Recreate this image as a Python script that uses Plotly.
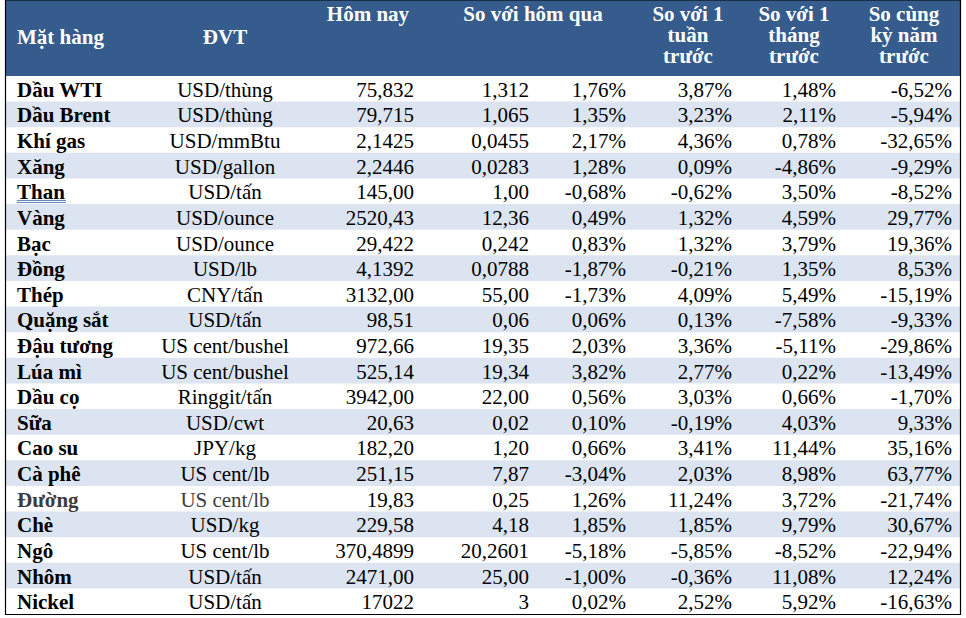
import plotly.graph_objects as go

# ---- data ----
names = ["Dầu WTI", "Dầu Brent", "Khí gas", "Xăng", "Than", "Vàng", "Bạc", "Đồng", "Thép",
         "Quặng sắt", "Đậu tương", "Lúa mì", "Dầu cọ", "Sữa", "Cao su", "Cà phê", "Đường",
         "Chè", "Ngô", "Nhôm", "Nickel"]
units = ["USD/thùng", "USD/thùng", "USD/mmBtu", "USD/gallon", "USD/tấn", "USD/ounce", "USD/ounce",
         "USD/lb", "CNY/tấn", "USD/tấn", "US cent/bushel", "US cent/bushel", "Ringgit/tấn",
         "USD/cwt", "JPY/kg", "US cent/lb", "US cent/lb", "USD/kg", "US cent/lb", "USD/tấn", "USD/tấn"]
today = ["75,832", "79,715", "2,1425", "2,2446", "145,00", "2520,43", "29,422", "4,1392", "3132,00",
         "98,51", "972,66", "525,14", "3942,00", "20,63", "182,20", "251,15", "19,83", "229,58",
         "370,4899", "2471,00", "17022"]
chg_day_abs = ["1,312", "1,065", "0,0455", "0,0283", "1,00", "12,36", "0,242", "0,0788", "55,00",
               "0,06", "19,35", "19,34", "22,00", "0,02", "1,20", "7,87", "0,25", "4,18",
               "20,2601", "25,00", "3"]
chg_day_pct = ["1,76%", "1,35%", "2,17%", "1,28%", "-0,68%", "0,49%", "0,83%", "-1,87%", "-1,73%",
               "0,06%", "2,03%", "3,82%", "0,56%", "0,10%", "0,66%", "-3,04%", "1,26%", "1,85%",
               "-5,18%", "-1,00%", "0,02%"]
chg_week = ["3,87%", "3,23%", "4,36%", "0,09%", "-0,62%", "1,32%", "1,32%", "-0,21%", "4,09%",
            "0,13%", "3,36%", "2,77%", "3,03%", "-0,19%", "3,41%", "2,03%", "11,24%", "1,85%",
            "-5,85%", "-0,36%", "2,52%"]
chg_month = ["1,48%", "2,11%", "0,78%", "-4,86%", "3,50%", "4,59%", "3,79%", "1,35%", "5,49%",
             "-7,58%", "-5,11%", "0,22%", "0,66%", "4,03%", "11,44%", "8,98%", "3,72%", "9,79%",
             "-8,52%", "11,08%", "5,92%"]
chg_year = ["-6,52%", "-5,94%", "-32,65%", "-9,29%", "-8,52%", "29,77%", "19,36%", "8,53%",
            "-15,19%", "-9,33%", "-29,86%", "-13,49%", "-1,70%", "9,33%", "35,16%", "63,77%",
            "-21,74%", "30,67%", "-22,94%", "12,24%", "-16,63%"]

header_labels = [["", "Mặt hàng", ""], ["", "ĐVT", ""], ["Hôm nay", "", ""],
                 ["So với hôm qua", "", ""], ["So với 1", "tuần", "trước"],
                 ["So với 1", "tháng", "trước"], ["So cùng", "kỳ năm", "trước"]]

# ---- layout geometry ----
W, H = 966, 618
FONT = "Liberation Serif"
FS = 21
HEADER_BG = "#355c8c"
ALT_BG = "#dbe4f0"
TABLE_L, TABLE_R = 6, 960
HEAD_B = 76
TABLE_B = 614
n = len(names)
row_h = (TABLE_B - HEAD_B) / n
row_y = [HEAD_B + row_h * (i + 0.5) + 2.75 for i in range(n)]

fig = go.Figure()

shapes = [dict(type="rect", x0=TABLE_L, x1=TABLE_R, y0=0, y1=HEAD_B, fillcolor=HEADER_BG,
               line=dict(width=0), layer="below")]
for i in range(n):
    if i % 2 == 1:
        shapes.append(dict(type="rect", x0=TABLE_L, x1=TABLE_R, y0=HEAD_B + i * row_h,
                           y1=HEAD_B + (i + 1) * row_h, fillcolor=ALT_BG,
                           line=dict(width=0), layer="below"))
# outer border
shapes.append(dict(type="rect", x0=5.5, x1=TABLE_R + 0.5, y0=0, y1=TABLE_B + 0.5,
                   line=dict(color="black", width=1.2), fillcolor="rgba(0,0,0,0)"))
# spell-check style double underline under "Than"
than_i = names.index("Than")
uy = HEAD_B + than_i * row_h + 22
for dy in (0, 2):
    shapes.append(dict(type="line", x0=17, x1=66, y0=uy + dy, y1=uy + dy,
                       line=dict(color="#3a64a8", width=0.8)))

def text_col(x, values, pos, weight="normal", colors="black"):
    fig.add_trace(go.Scatter(
        x=[x] * len(values), y=row_y, mode="text", text=values, textposition=pos,
        textfont=dict(family=FONT, size=FS, color=colors, weight=weight),
        hoverinfo="skip", showlegend=False, cliponaxis=False))

gray_rows = ["#3c3c3c" if nm == "Đường" else "black" for nm in names]
text_col(17, names, "middle right", weight="bold", colors=gray_rows)
text_col(225, units, "middle center", colors=gray_rows)
text_col(414, today, "middle left")
text_col(529, chg_day_abs, "middle left")
text_col(626, chg_day_pct, "middle left")
text_col(732, chg_week, "middle left")
text_col(836, chg_month, "middle left")
text_col(952, chg_year, "middle left")

# header
head_x = [17, 225, 368, 533, 688, 794, 904]
head_pos = ["middle right", "middle center", "middle center", "middle center",
            "middle center", "middle center", "middle center"]
line_base = [21, 42, 63]
for ci, labels in enumerate(header_labels):
    for li, lab in enumerate(labels):
        if not lab:
            continue
        base = line_base[li]
        if ci in (0, 1):
            base = 44
        fig.add_trace(go.Scatter(
            x=[head_x[ci]], y=[base - FS * 0.25], mode="text", text=[lab],
            textposition=head_pos[ci],
            textfont=dict(family=FONT, size=FS, color="white", weight="bold"),
            hoverinfo="skip", showlegend=False, cliponaxis=False))

fig.update_layout(
    width=W, height=H, margin=dict(l=0, r=0, t=0, b=0, pad=0),
    paper_bgcolor="white", plot_bgcolor="white",
    xaxis=dict(range=[0, W], visible=False, fixedrange=True),
    yaxis=dict(range=[H, 0], visible=False, fixedrange=True),
    shapes=shapes,
)

fig.write_html("out.html", config={"displayModeBar": False},
               post_script="document.body.style.margin='0';document.body.style.overflow='hidden';")
